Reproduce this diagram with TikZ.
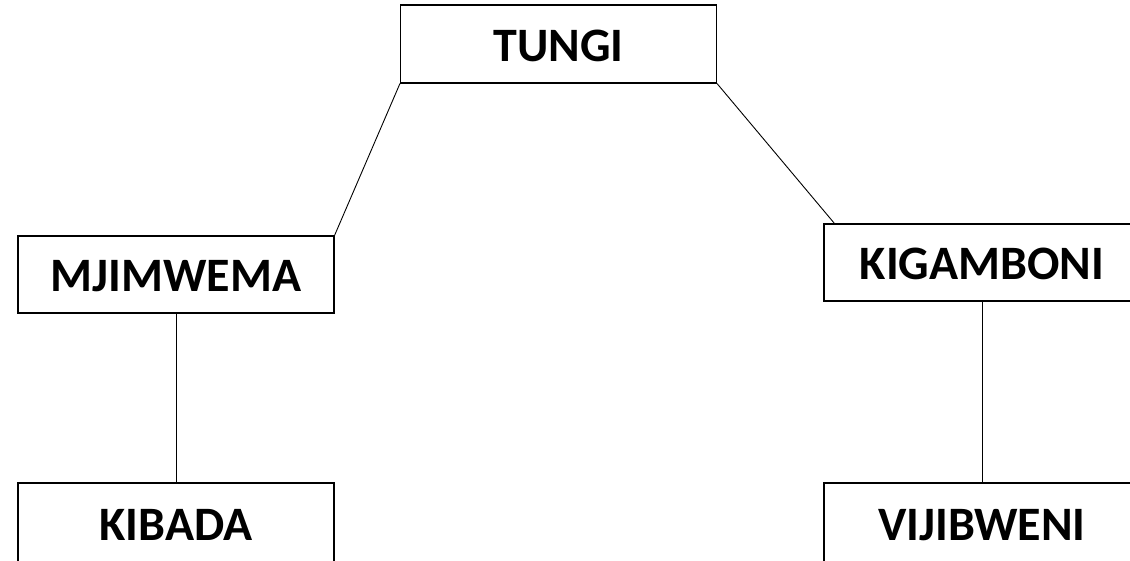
\documentclass[tikz,border=0pt]{standalone}
\usepackage{fontspec}
\setmainfont{Carlito}
\usetikzlibrary{calc}
\begin{document}
\begin{tikzpicture}[x=1pt,y=-1pt,
  place/.style={draw=black,line width=1.1pt,fill=white,minimum width=316pt,minimum height=77pt,
    inner sep=0pt,text height=34pt,text depth=0pt,font=\fontsize{48}{52}\selectfont\bfseries},
  link/.style={draw=black,line width=0.9pt}]
\useasboundingbox (0,0) rectangle (1130,560);
\clip (0,0) rectangle (1130,560);
\node[place,minimum height=78pt] (tungi) at (558.5,44) {TUNGI};
\node[place] (mjimwema) at (176,274.5) {MJIMWEMA};
\node[place] (kigamboni) at (982,262.5) {KIGAMBONI};
\node[place,minimum height=80pt] (kibada) at (176,523) {KIBADA};
\node[place,minimum height=80pt] (vijibweni) at (982,523) {VIJIBWENI};
\coordinate (kgtop) at ($(kigamboni.north west)+(11,0)$);
\draw[link] (tungi.south west) -- (mjimwema.north east);
\draw[link] (tungi.south east) -- (kgtop);
\draw[link] (mjimwema.south) -- (kibada.north);
\draw[link] (kigamboni.south) -- (vijibweni.north);
\end{tikzpicture}
\end{document}
